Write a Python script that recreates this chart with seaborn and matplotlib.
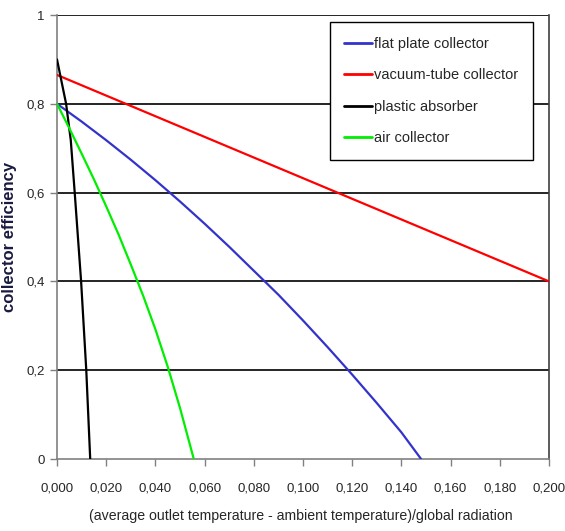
import numpy as np
import pandas as pd
import matplotlib
matplotlib.use("Agg")
import matplotlib.pyplot as plt
import seaborn as sns

# values
flat_x = [0, 0.01, 0.02, 0.03, 0.04, 0.05, 0.06, 0.07, 0.08, 0.09, 0.10, 0.11, 0.12, 0.13, 0.14, 0.148]
flat_y = [0.80, 0.760, 0.718, 0.674, 0.628, 0.580, 0.530, 0.478, 0.424, 0.370, 0.312, 0.252, 0.190, 0.126, 0.060, 0.0]
vacuum_x = [0, 0.2]
vacuum_y = [0.865, 0.40]
plastic_x = [0, 0.0037, 0.0056, 0.0072, 0.0098, 0.0119, 0.0135]
plastic_y = [0.90, 0.80, 0.718, 0.60, 0.40, 0.20, 0.0]
air_x = [0, 0.005, 0.010, 0.015, 0.020, 0.025, 0.030, 0.035, 0.040, 0.045, 0.050, 0.0556]
air_y = [0.80, 0.745, 0.688, 0.630, 0.569, 0.506, 0.438, 0.368, 0.292, 0.208, 0.115, 0.0]

series_names = ["flat plate collector", "vacuum-tube collector", "plastic absorber", "air collector"]
series_colors = ["#3333cc", "#ff0000", "#000000", "#00ee00"]
x_ticks = [0, 0.02, 0.04, 0.06, 0.08, 0.10, 0.12, 0.14, 0.16, 0.18, 0.20]
y_ticks = [0, 0.2, 0.4, 0.6, 0.8, 1.0]
y_tick_labels = ["0", "0,2", "0,4", "0,6", "0,8", "1"]

frames = []
for name, xs, ys in zip(series_names,
                        [flat_x, vacuum_x, plastic_x, air_x],
                        [flat_y, vacuum_y, plastic_y, air_y]):
    frames.append(pd.DataFrame({"x": xs, "eff": ys, "series": name}))
df = pd.concat(frames, ignore_index=True)

sns.set_style("white")
plt.rcParams["font.family"] = ["Liberation Sans", "DejaVu Sans"]

fig = plt.figure(figsize=(5.65, 5.31), dpi=100)
ax = fig.add_axes([57 / 565, 1 - 459 / 531, 492 / 565, 444 / 531])

for y in y_ticks[1:]:
    ax.axhline(y, color="#000000", linewidth=1.2, zorder=1)

sns.lineplot(data=df, x="x", y="eff", hue="series", hue_order=series_names,
             palette=dict(zip(series_names, series_colors)), estimator=None,
             sort=False, linewidth=1.6, ax=ax, zorder=3)

ax.set_xlim(0, 0.2)
ax.set_ylim(0, 1)
ax.set_xticks(x_ticks)
ax.set_xticklabels([f"{v:.3f}".replace(".", ",") for v in x_ticks])
ax.set_yticks(y_ticks)
ax.set_yticklabels(y_tick_labels)
ax.tick_params(axis="both", direction="out", length=5, width=1, color="#808080",
               labelsize=9.5, pad=4, bottom=True, left=True)
ax.tick_params(axis="x", pad=12)

for side in ["left", "bottom"]:
    ax.spines[side].set_color("#808080")
    ax.spines[side].set_linewidth(1.2)
ax.spines["top"].set_visible(False)
ax.spines["right"].set_color("#404040")
ax.spines["right"].set_linewidth(1.2)

ax.set_xlabel("(average outlet temperature - ambient temperature)/global radiation",
              fontsize=10.2)
ax.xaxis.set_label_coords((301 - 57) / 492, (459 - 509) / 444)
ax.set_ylabel("collector efficiency", fontsize=12, fontweight="bold",
              color="#1a1a40")
ax.yaxis.set_label_coords((17 - 57) / 492, (459 - 237) / 444)

leg = ax.legend(loc="upper right", bbox_to_anchor=(0.9675, 0.984), frameon=True,
                fancybox=False, edgecolor="#000000", framealpha=1, fontsize=10.5,
                handlelength=1.9, handletextpad=0.15, labelspacing=1.2,
                borderpad=1.0, borderaxespad=0)
leg.get_frame().set_linewidth(1.0)
for line in leg.get_lines():
    line.set_linewidth(2.0)

fig.savefig("out.png", dpi=100)
